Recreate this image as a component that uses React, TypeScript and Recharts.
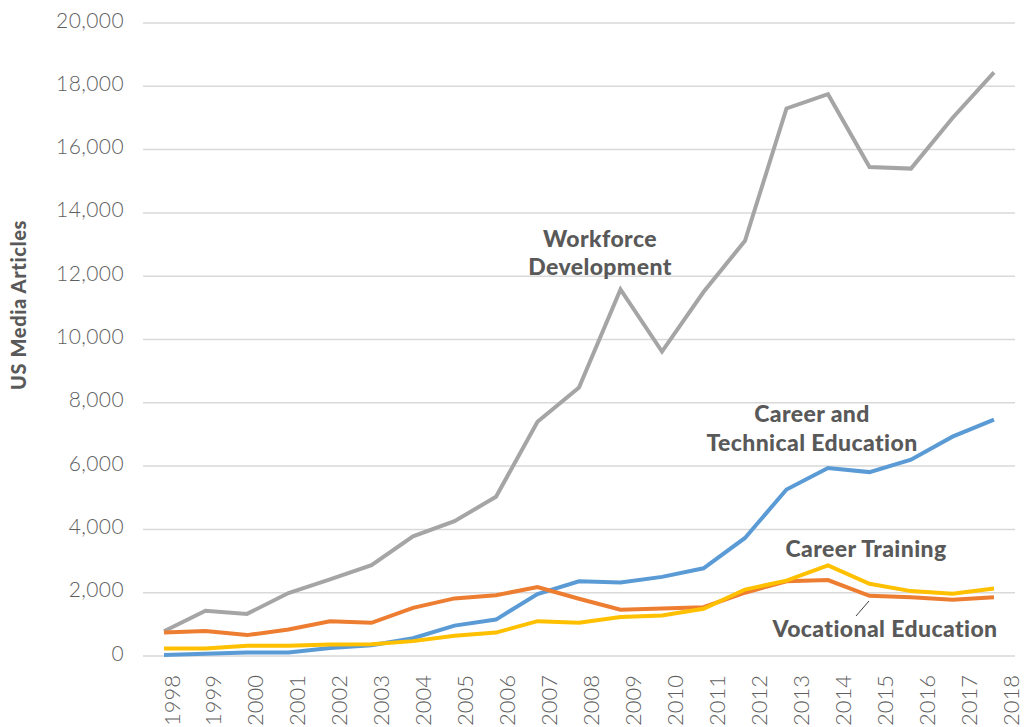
import React from 'react';
import { LineChart, Line, XAxis, YAxis, CartesianGrid } from 'recharts';

// ── Data ──────────────────────────────────────────────────────────────────
const years = [
  '1998', '1999', '2000', '2001', '2002', '2003', '2004', '2005', '2006', '2007',
  '2008', '2009', '2010', '2011', '2012', '2013', '2014', '2015', '2016', '2017', '2018',
];
const workforceDevelopment = [
  780, 1430, 1330, 1990, 2420, 2870, 3780, 4260, 5030, 7400,
  8480, 11580, 9620, 11500, 13120, 17300, 17750, 15450, 15400, 17000, 18440,
];
const careerTechnicalEducation = [
  30, 70, 110, 110, 250, 340, 560, 960, 1150, 1960,
  2360, 2320, 2500, 2770, 3730, 5260, 5940, 5810, 6200, 6930, 7470,
];
const vocationalEducation = [
  740, 790, 660, 840, 1100, 1050, 1520, 1820, 1920, 2180,
  1810, 1460, 1500, 1540, 2000, 2360, 2400, 1900, 1860, 1780, 1860,
];
const careerTraining = [
  240, 240, 320, 320, 360, 370, 470, 640, 740, 1100,
  1050, 1230, 1280, 1490, 2100, 2380, 2860, 2280, 2050, 1970, 2130,
];
const yTicks = [0, 2000, 4000, 6000, 8000, 10000, 12000, 14000, 16000, 18000, 20000];

const data = years.map((year, i) => ({
  year,
  workforce: workforceDevelopment[i],
  cte: careerTechnicalEducation[i],
  vocational: vocationalEducation[i],
  training: careerTraining[i],
}));

const TICK_FONT = 'Lato, "Open Sans", sans-serif';
const LABEL_COLOR = '#595959';

// ── Axis ticks ────────────────────────────────────────────────────────────
// eslint-disable-next-line @typescript-eslint/no-explicit-any
const YTick = ({ x, y, payload }: any) => (
  <text x={x - 19} y={y - 4} textAnchor="end" dominantBaseline="central"
    fill="#5f5f5f" fontFamily={TICK_FONT} fontWeight={300} fontSize={21} letterSpacing={0.4}>
    {payload.value.toLocaleString('en-US')}
  </text>
);

// eslint-disable-next-line @typescript-eslint/no-explicit-any
const XTick = ({ x, y, payload, index }: any) => (
  <text transform={`translate(${x + 7 + index * 0.45},${y + 19}) rotate(-90)`}
    textAnchor="end" dominantBaseline="central"
    fill="#5f5f5f" fontFamily={TICK_FONT} fontWeight={300} fontSize={22}>
    {payload.value}
  </text>
);

export default function App() {
  return (
    <div style={{ position: 'absolute', left: 0, top: 0, width: 1025, height: 727, background: '#fff' }}>
      <LineChart width={1025} height={727} data={data} margin={{ top: 23, right: 10, bottom: 0, left: 0 }}>
        <CartesianGrid vertical={false} stroke="#D9D9D9" strokeWidth={1.5} />
        <XAxis dataKey="year" height={71} padding={{ left: 21, right: 21 }}
          axisLine={false} tickLine={false} tickSize={0} tickMargin={0} interval={0} tick={<XTick />} />
        <YAxis width={143} domain={[0, 20000]} ticks={yTicks} interval={0}
          axisLine={false} tickLine={false} tickSize={0} tickMargin={0} tick={<YTick />} />
        <Line dataKey="workforce" stroke="#A5A5A5" strokeWidth={4} dot={false} isAnimationActive={false} />
        <Line dataKey="cte" stroke="#5B9BD5" strokeWidth={4} dot={false} isAnimationActive={false} />
        <Line dataKey="vocational" stroke="#ED7D31" strokeWidth={4} dot={false} isAnimationActive={false} />
        <Line dataKey="training" stroke="#FFC000" strokeWidth={4} dot={false} isAnimationActive={false} />
      </LineChart>

      {/* annotations + axis title */}
      <svg width={1025} height={727} style={{ position: 'absolute', left: 0, top: 0, pointerEvents: 'none' }}>
        <g fontFamily={TICK_FONT} fontWeight={900} fontSize={23} letterSpacing={0.4} fill={LABEL_COLOR} textAnchor="middle">
          <text x={600} y={247}>Workforce</text>
          <text x={600} y={275}>Development</text>
          <text x={812} y={422}>Career and</text>
          <text x={812} y={451}>Technical Education</text>
          <text x={866} y={557}>Career Training</text>
          <text x={885} y={637}>Vocational Education</text>
        </g>
        <line x1={856} y1={616} x2={869} y2={601} stroke="#404040" strokeWidth={1} />
        <text transform="translate(18,305) rotate(-90)" textAnchor="middle" dominantBaseline="central"
          fontFamily={TICK_FONT} fontWeight={900} fontSize={20} letterSpacing={0.6} fill={LABEL_COLOR}>
          US Media Articles
        </text>
      </svg>
    </div>
  );
}
